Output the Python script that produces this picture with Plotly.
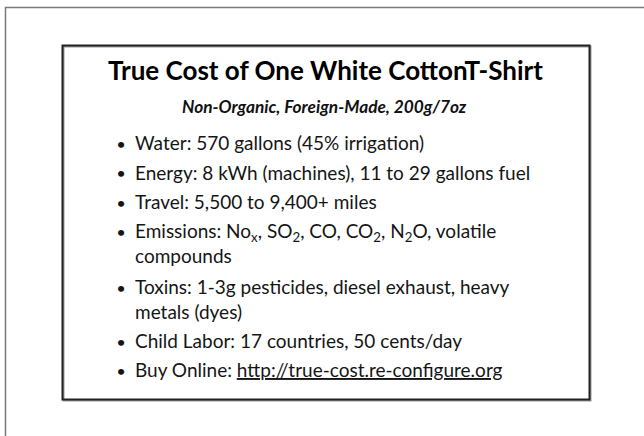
import plotly.graph_objects as go

W, H = 644, 436

title = "True Cost of One White CottonT-Shirt"
subtitle = "Non-Organic, Foreign-Made, 200g/7oz"
bullet_lines = [
    ["Water: 570 gallons (45% irrigation)"],
    ["Energy: 8 kWh (machines), 11 to 29 gallons fuel"],
    ["Travel: 5,500 to 9,400+ miles"],
    ["Emissions: No<sub>x</sub>, SO<sub>2</sub>, CO, CO<sub>2</sub>, N<sub>2</sub>O, volatile", "compounds"],
    ["Toxins: 1-3g pesticides, diesel exhaust, heavy", "metals (dyes)"],
    ["Child Labor: 17 countries, 50 cents/day"],
    ["Buy Online: <u>http://true-cost.re-configure.org</u>"],
]

FONT = "Lato, Carlito, Calibri, sans-serif"
TITLE_SIZE = 26
SUB_SIZE = 17.3
BODY_SIZE = 19
TEXT_COLOR = "#151515"

fig = go.Figure()
fig.add_trace(go.Scatter(x=[0, W], y=[0, H], mode="markers",
                         marker=dict(opacity=0), hoverinfo="skip", showlegend=False))

shapes = []
# outer slide edge (gray), continues off right and bottom
shapes.append(dict(type="path", path=f"M 5.5 {H + 5} L 5.5 7.5 L {W + 5} 7.5",
                   line=dict(color="#7a7a7a", width=1.5), xref="x", yref="y"))
# inner box shadow + box
shapes.append(dict(type="rect", x0=63.5, y0=46.5, x1=590.5, y1=400.5,
                   line=dict(color="#9a9a9a", width=2), xref="x", yref="y"))
shapes.append(dict(type="rect", x0=62.5, y0=45.5, x1=589.5, y1=399.5,
                   line=dict(color="#222222", width=2), xref="x", yref="y"))

ann = []
def text_at(txt, x, ycenter, size, xanchor="left", bold=False, italic=False,
            color=TEXT_COLOR):
    t = txt
    if bold:
        t = f"<b>{t}</b>"
    if italic:
        t = f"<i>{t}</i>"
    ann.append(dict(text=t, x=x, y=ycenter,
                    xref="x", yref="y", align="left",
                    xanchor=xanchor, yanchor="middle", showarrow=False,
                    font=dict(family=FONT, size=size, color=color)))

text_at(title, 325.5, 79 - 0.33 * TITLE_SIZE, TITLE_SIZE, xanchor="center", bold=True, color="#000000")
text_at(subtitle, 324.5, 112 - 0.33 * SUB_SIZE, SUB_SIZE, xanchor="center", bold=True, italic=True, color="#111111")

baselines = [149, 178.3, 207.5, 237, 292.5, 346.7, 375.5]
gap = BODY_SIZE * 1.3
for lines, b in zip(bullet_lines, baselines):
    text_at("<b>•</b>", 120.5, b - 5.5, 14, xanchor="center")
    n = len(lines)
    text_at("<br>".join(lines), 133, b - 0.33 * BODY_SIZE + (n - 1) * gap / 2, BODY_SIZE)

fig.update_layout(
    width=W, height=H, margin=dict(l=0, r=0, t=0, b=0),
    paper_bgcolor="white", plot_bgcolor="white",
    xaxis=dict(range=[0, W], visible=False, fixedrange=True),
    yaxis=dict(range=[H, 0], visible=False, fixedrange=True),
    shapes=shapes, annotations=ann, showlegend=False,
)
fig.write_html("out.html", config={"displayModeBar": False},
               post_script="document.body.style.margin='0';document.body.style.overflow='hidden';")
